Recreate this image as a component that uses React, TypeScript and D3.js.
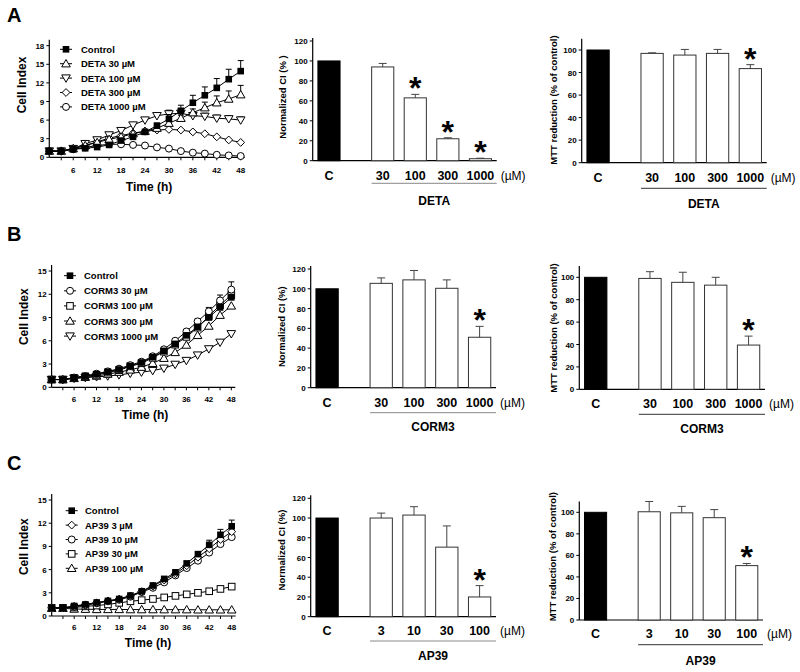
import React from "react";
import * as d3 from "d3";

// ---------- DATA ----------
const TIME = [0, 3, 6, 9, 12, 15, 18, 21, 24, 27, 30, 33, 36, 39, 42, 45, 48];
const TIME_TICK_LABELS = [6, 12, 18, 24, 30, 36, 42, 48];

// Panel A – DETA
const A_NAMES = ["Control", "DETA 30 µM", "DETA 100 µM", "DETA 300 µM", "DETA 1000 µM"];
const A_CONTROL = [1.0, 1.0, 1.3, 1.45, 1.65, 2.0, 2.7, 3.3, 4.1, 5.1, 6.2, 7.5, 8.8, 10.0, 11.2, 12.6, 13.9];
const A_CONTROL_ERR = [0, 0, 0, 0, 0, 0.1, 0.1, 0.2, 0.2, 0.4, 0.7, 0.9, 1.2, 1.35, 1.5, 1.6, 1.7];
const A_DETA30 = [1.0, 1.0, 1.4, 1.9, 2.4, 2.9, 3.3, 3.8, 4.2, 4.7, 5.5, 6.3, 7.2, 8.0, 8.8, 9.4, 10.1];
const A_DETA30_ERR = [0, 0, 0, 0, 0, 0, 0, 0, 0, 0.3, 0.4, 0.5, 0.6, 0.9, 1.1, 1.3, 1.5];
const A_DETA100 = [1.0, 1.0, 1.4, 2.2, 2.8, 3.6, 4.3, 5.2, 6.0, 6.7, 7.0, 7.1, 6.7, 6.6, 6.3, 6.2, 6.0];
const A_DETA100_ERR = [0, 0, 0, 0, 0, 0, 0, 0, 0.3, 0.4, 0.6, 0.5, 0.5, 0.5, 0.5, 0.5, 0.5];
const A_DETA300 = [1.0, 1.0, 1.4, 1.9, 2.5, 3.1, 3.5, 3.9, 4.2, 4.4, 4.5, 4.4, 4.1, 3.8, 3.3, 2.8, 2.4];
const A_DETA1000 = [1.0, 1.0, 1.3, 1.6, 1.9, 2.1, 2.1, 2.0, 1.9, 1.6, 1.4, 1.0, 0.75, 0.6, 0.4, 0.3, 0.2];
const A_ZERO = TIME.map(() => 0);

// Panel B – CORM3
const B_NAMES = ["Control", "CORM3 30 µM", "CORM3 100 µM", "CORM3 300 µM", "CORM3 1000 µM"];
const B_CONTROL = [1.0, 1.0, 1.25, 1.45, 1.7, 2.0, 2.3, 2.75, 3.2, 3.9, 4.7, 5.6, 6.7, 7.8, 9.0, 10.3, 11.6];
const B_CONTROL_ERR = [0, 0, 0, 0, 0, 0, 0, 0, 0, 0.1, 0.1, 0.2, 0.2, 0.3, 0.3, 0.4, 0.4];
const B_CORM30 = [1.0, 1.0, 1.25, 1.45, 1.75, 2.05, 2.4, 2.85, 3.3, 4.0, 4.9, 6.0, 7.2, 8.5, 9.8, 11.2, 12.6];
const B_CORM30_ERR = [0, 0, 0, 0, 0, 0, 0, 0, 0, 0.1, 0.1, 0.2, 0.2, 0.3, 0.5, 0.7, 1.0];
const B_CORM100 = [1.0, 1.0, 1.2, 1.4, 1.6, 1.9, 2.2, 2.7, 3.1, 3.8, 4.6, 5.5, 6.5, 7.7, 9.2, 10.6, 11.9];
const B_CORM300 = [1.0, 1.0, 1.15, 1.3, 1.45, 1.7, 1.95, 2.25, 2.6, 3.1, 3.75, 4.5, 5.45, 6.7, 7.9, 9.3, 10.5];
const B_CORM1000 = [1.0, 1.0, 1.15, 1.25, 1.35, 1.45, 1.6, 1.8, 1.95, 2.15, 2.45, 2.95, 3.45, 4.15, 4.95, 5.8, 6.9];
const B_ZERO = TIME.map(() => 0);

// Panel C – AP39
const C_NAMES = ["Control", "AP39 3 µM", "AP39 10 µM", "AP39 30 µM", "AP39 100 µM"];
const C_CONTROL = [1.05, 1.05, 1.3, 1.5, 1.75, 1.95, 2.2, 2.65, 3.2, 3.95, 4.8, 5.65, 6.8, 8.0, 9.2, 10.5, 11.6];
const C_CONTROL_ERR = [0, 0, 0, 0, 0, 0, 0, 0, 0, 0.1, 0.1, 0.15, 0.2, 0.3, 0.6, 0.7, 0.8];
const C_AP3 = [1.05, 1.05, 1.25, 1.45, 1.7, 1.95, 2.2, 2.6, 3.15, 3.85, 4.65, 5.45, 6.5, 7.6, 8.7, 9.9, 10.9];
const C_AP10 = [1.05, 1.05, 1.2, 1.4, 1.65, 1.9, 2.1, 2.5, 3.1, 3.65, 4.35, 5.25, 6.2, 7.15, 8.2, 9.3, 10.2];
const C_AP30 = [1.05, 1.05, 1.1, 1.25, 1.35, 1.5, 1.7, 1.9, 2.05, 2.2, 2.4, 2.6, 2.8, 3.0, 3.2, 3.5, 3.8];
const C_AP100 = [1.0, 1.0, 0.9, 0.88, 0.85, 0.85, 0.85, 0.83, 0.83, 0.83, 0.82, 0.82, 0.82, 0.8, 0.8, 0.8, 0.8];
const C_ZERO = TIME.map(() => 0);

// Bar charts
const DETA_CATS = ["C", "30", "100", "300", "1000"];
const CORM_CATS = ["C", "30", "100", "300", "1000"];
const AP39_CATS = ["C", "3", "10", "30", "100"];

const A_NCI = [100, 94, 63, 22, 2];
const A_NCI_ERR = [0, 3.5, 3.5, 1, 0.5];
const A_NCI_SIG = [false, false, true, true, true];
const A_MTT = [100, 97, 95.5, 97, 83.5];
const A_MTT_ERR = [0, 0.5, 5, 3.5, 3.5];
const A_MTT_SIG = [false, false, false, false, true];

const B_NCI = [100, 105.5, 109, 100.5, 51];
const B_NCI_ERR = [0, 5.5, 9.5, 8.5, 11];
const B_NCI_SIG = [false, false, false, false, true];
const B_MTT = [100, 99, 95.5, 93, 39.5];
const B_MTT_ERR = [0, 6, 9, 7, 8];
const B_MTT_SIG = [false, false, false, false, true];

const C_NCI = [100, 100, 103, 70.5, 20];
const C_NCI_ERR = [0, 5, 8.5, 21.5, 11.5];
const C_NCI_SIG = [false, false, false, false, true];
const C_MTT = [100, 100.5, 99.5, 95, 50.5];
const C_MTT_ERR = [0, 9.5, 6, 7.5, 2];
const C_MTT_SIG = [false, false, false, false, true];

const NCI_TICKS = [0, 20, 40, 60, 80, 100, 120];
const MTT_TICKS = [0, 20, 40, 60, 80, 100];

// ---------- STYLE ----------
const FONT = "'Liberation Sans', Arial, Helvetica, sans-serif";

type MarkerType = "filledSquare" | "square" | "circle" | "triUp" | "triDown" | "diamond";

function Marker({ type, x, y }: { type: MarkerType; x: number; y: number }) {
  const s = 3.3;
  switch (type) {
    case "filledSquare":
      return <rect x={x - s} y={y - s} width={2 * s} height={2 * s} fill="#000" />;
    case "square":
      return <rect x={x - s} y={y - s} width={2 * s} height={2 * s} fill="#fff" stroke="#000" strokeWidth={1} />;
    case "circle":
      return <circle cx={x} cy={y} r={3.5} fill="#fff" stroke="#000" strokeWidth={1} />;
    case "triUp":
      return <path d={`M${x},${y - 4.2}L${x + 4.3},${y + 3.2}L${x - 4.3},${y + 3.2}Z`} fill="#fff" stroke="#000" strokeWidth={1} />;
    case "triDown":
      return <path d={`M${x},${y + 4.2}L${x + 4.3},${y - 3.2}L${x - 4.3},${y - 3.2}Z`} fill="#fff" stroke="#000" strokeWidth={1} />;
    case "diamond":
      return <path d={`M${x},${y - 3.9}L${x + 3.9},${y}L${x},${y + 3.9}L${x - 3.9},${y}Z`} fill="#fff" stroke="#000" strokeWidth={1} />;
  }
  return null;
}

interface LineLayout {
  x0: number; x48: number; y0: number; yTopPx: number; yMax: number;
  letter: string; letterY: number;
  ylabX: number; ylabY: number; timeX: number; timeY: number; tickY: number;
  legMarkX: number; legTextX: number; legY0: number; legDy: number;
}

function LineChart({ L, names, series, errs, markers }: {
  L: LineLayout; names: string[]; series: number[][]; errs: number[][]; markers: MarkerType[];
}) {
  const x = d3.scaleLinear().domain([0, 48]).range([L.x0, L.x48]);
  const y = d3.scaleLinear().domain([0, L.yMax]).range([L.y0, L.yTopPx]);
  const line = d3.line<number>().x((_, i) => x(TIME[i])).y((d) => y(d));
  const yTicks = d3.range(0, L.yMax + 0.01, 3);
  const order = series.map((_, i) => i).reverse();
  return (
    <g fontFamily={FONT}>
      <text x={7} y={L.letterY} fontSize={20} fontWeight="bold">{L.letter}</text>
      {/* axes */}
      <line x1={x(0)} x2={x(0)} y1={y(0)} y2={y(L.yMax) - 6} stroke="#000" strokeWidth={1.2} />
      <line x1={x(0)} x2={x(48) + 4} y1={y(0)} y2={y(0)} stroke="#000" strokeWidth={1.2} />
      {yTicks.map((t) => (
        <g key={"yt" + t}>
          <line x1={x(0) - 3} x2={x(0)} y1={y(t)} y2={y(t)} stroke="#000" strokeWidth={1} />
          <text x={x(0) - 5} y={y(t) + 3} fontSize={8} fontWeight="bold" textAnchor="end">{t}</text>
        </g>
      ))}
      {TIME.slice(1).map((t) => (
        <line key={"xt" + t} x1={x(t)} x2={x(t)} y1={y(0)} y2={y(0) + 3} stroke="#000" strokeWidth={1} />
      ))}
      {TIME_TICK_LABELS.map((t) => (
        <text key={"xl" + t} x={x(t)} y={L.tickY} fontSize={8} fontWeight="bold" textAnchor="middle">{t}</text>
      ))}
      <text x={L.timeX} y={L.timeY} fontSize={12} fontWeight="bold" textAnchor="middle">Time (h)</text>
      <text transform={`translate(${L.ylabX},${L.ylabY}) rotate(-90)`} fontSize={12} fontWeight="bold" textAnchor="middle" dy="0.35em">Cell Index</text>
      {/* series */}
      {order.map((si) => (
        <g key={"s" + si}>
          <path d={line(series[si]) || ""} fill="none" stroke="#000" strokeWidth={1} />
          {series[si].map((v, i) => errs[si][i] > 0 ? (
            <g key={"e" + i}>
              <line x1={x(TIME[i])} x2={x(TIME[i])} y1={y(v)} y2={y(v + errs[si][i])} stroke="#000" strokeWidth={1} />
              <line x1={x(TIME[i]) - 3} x2={x(TIME[i]) + 3} y1={y(v + errs[si][i])} y2={y(v + errs[si][i])} stroke="#000" strokeWidth={1} />
            </g>
          ) : null)}
          {series[si].map((v, i) => <Marker key={"m" + i} type={markers[si]} x={x(TIME[i])} y={y(v)} />)}
        </g>
      ))}
      {/* legend */}
      {names.map((n, i) => {
        const ly = L.legY0 + i * L.legDy;
        return (
          <g key={"lg" + i}>
            <line x1={L.legMarkX - 6} x2={L.legMarkX + 6} y1={ly} y2={ly} stroke="#000" strokeWidth={1} />
            <Marker type={markers[i]} x={L.legMarkX} y={ly} />
            <text x={L.legTextX} y={ly + 3.5} fontSize={9.5} fontWeight="bold">{n}</text>
          </g>
        );
      })}
    </g>
  );
}

interface BarLayout {
  ax0: number; ax1: number; y0: number; yRefPx: number; yRef: number; yMax: number;
  ylabX: number; ylabY: number; ylabel: string;
  catDy: number; ulDy: number; nameDy: number; group: string;
  ulColor: string;
}

function BarChart({ L, cats, values, errs, sig, ticks }: {
  L: BarLayout; cats: string[]; values: number[]; errs: number[]; sig: boolean[]; ticks: number[];
}) {
  const x = d3.scaleLinear().domain([-0.5, 5.15]).range([L.ax0, L.ax1]);
  const y = d3.scaleLinear().domain([0, L.yRef]).range([L.y0, L.yRefPx]);
  const pos = (i: number) => (i === 0 ? 0 : i + 0.65);
  const bw = 0.68;
  const barW = x(bw) - x(0);
  const ulStart = x(pos(1) - bw / 2);
  return (
    <g fontFamily={FONT}>
      <line x1={L.ax0} x2={L.ax0} y1={y(0)} y2={y(L.yMax)} stroke="#000" strokeWidth={1.2} />
      <line x1={L.ax0} x2={L.ax1} y1={y(0)} y2={y(0)} stroke="#000" strokeWidth={1.2} />
      {ticks.map((t) => (
        <g key={"t" + t}>
          <line x1={L.ax0 - 3} x2={L.ax0} y1={y(t)} y2={y(t)} stroke="#000" strokeWidth={1} />
          <text x={L.ax0 - 5} y={y(t) + 3} fontSize={8} fontWeight="bold" textAnchor="end">{t}</text>
        </g>
      ))}
      <text transform={`translate(${L.ylabX},${L.ylabY}) rotate(-90)`} fontSize={9.5} fontWeight="bold" textAnchor="middle" dy="0.35em">{L.ylabel}</text>
      {values.map((v, i) => {
        const cx = x(pos(i));
        const top = v + errs[i];
        return (
          <g key={"b" + i}>
            {errs[i] > 0 && (
              <g>
                <line x1={cx} x2={cx} y1={y(v)} y2={y(top)} stroke="#444" strokeWidth={1} />
                <line x1={cx - 4} x2={cx + 4} y1={y(top)} y2={y(top)} stroke="#444" strokeWidth={1} />
              </g>
            )}
            <rect x={cx - barW / 2} y={y(v)} width={barW} height={y(0) - y(v)}
              fill={i === 0 ? "#000" : "#fff"} stroke={i === 0 ? "#000" : "#333"} strokeWidth={1} />
            {sig[i] && (
              <text x={cx} y={y(top) - 13 + 18} fontSize={32} fontWeight="bold" textAnchor="middle">*</text>
            )}
            <text x={cx} y={y(0) + L.catDy} fontSize={12.5} fontWeight="bold" textAnchor="middle">{cats[i]}</text>
          </g>
        );
      })}
      <text x={L.ax1 + 4} y={y(0) + L.catDy} fontSize={12}>(µM)</text>
      <line x1={ulStart} x2={L.ax1} y1={y(0) + L.ulDy} y2={y(0) + L.ulDy} stroke={L.ulColor} strokeWidth={1} />
      <text x={(ulStart + L.ax1) / 2} y={y(0) + L.nameDy} fontSize={12} fontWeight="bold" textAnchor="middle">{L.group}</text>
    </g>
  );
}

// ---------- LAYOUT ----------
const LA: LineLayout = { x0: 49.3, x48: 240.7, y0: 157.3, yTopPx: 45.7, yMax: 18, letter: "A", letterY: 21.7,
  ylabX: 22, ylabY: 85, timeX: 149, timeY: 191, tickY: 173, legMarkX: 66, legTextX: 81, legY0: 49.3, legDy: 14.4 };
const LB: LineLayout = { x0: 51.6, x48: 231.3, y0: 387.3, yTopPx: 271, yMax: 15, letter: "B", letterY: 240.7,
  ylabX: 24, ylabY: 316.7, timeX: 145, timeY: 419, tickY: 401.5, legMarkX: 70, legTextX: 84, legY0: 275.7, legDy: 15.1 };
const LC: LineLayout = { x0: 51.7, x48: 231.7, y0: 616, yTopPx: 500, yMax: 15, letter: "C", letterY: 469.5,
  ylabX: 24, ylabY: 546.7, timeX: 148, timeY: 647, tickY: 630, legMarkX: 71.7, legTextX: 85, legY0: 510.7, legDy: 14.4 };

const BA1: BarLayout = { ax0: 312.7, ax1: 496.7, y0: 160.7, yRefPx: 41, yRef: 120, yMax: 123, ylabX: 283, ylabY: 97,
  ylabel: "Normalized CI (% )", catDy: 19, ulDy: 22.6, nameDy: 44.3, group: "DETA", ulColor: "#888" };
const BA2: BarLayout = { ax0: 581.7, ax1: 766.7, y0: 162.7, yRefPx: 50, yRef: 100, yMax: 110, ylabX: 554, ylabY: 100,
  ylabel: "MTT reduction (% of control)", catDy: 19, ulDy: 25.6, nameDy: 45.6, group: "DETA", ulColor: "#333" };
const BB1: BarLayout = { ax0: 310.7, ax1: 496, y0: 387.7, yRefPx: 269, yRef: 120, yMax: 123, ylabX: 281.7, ylabY: 326.7,
  ylabel: "Normalized CI (%)", catDy: 19, ulDy: 25, nameDy: 43, group: "CORM3", ulColor: "#888" };
const BB2: BarLayout = { ax0: 579.3, ax1: 765, y0: 389.3, yRefPx: 277.3, yRef: 100, yMax: 110, ylabX: 553.3, ylabY: 328,
  ylabel: "MTT reduction (% of control)", catDy: 19, ulDy: 25, nameDy: 44, group: "CORM3", ulColor: "#333" };
const BC1: BarLayout = { ax0: 310.7, ax1: 496, y0: 616.7, yRefPx: 498.3, yRef: 120, yMax: 123, ylabX: 281.7, ylabY: 550,
  ylabel: "Normalized CI (%)", catDy: 18.3, ulDy: 24.3, nameDy: 43.3, group: "AP39", ulColor: "#888" };
const BC2: BarLayout = { ax0: 579.3, ax1: 763, y0: 620, yRefPx: 512.3, yRef: 100, yMax: 110, ylabX: 552.3, ylabY: 556.7,
  ylabel: "MTT reduction (% of control)", catDy: 18.3, ulDy: 24.7, nameDy: 45, group: "AP39", ulColor: "#333" };

export default function App() {
  return (
    <svg width={800} height={672} style={{ position: "absolute", left: 0, top: 0, background: "#fff" }}>
      <rect x={0} y={0} width={800} height={672} fill="#fff" />
      <LineChart L={LA} names={A_NAMES}
        series={[A_CONTROL, A_DETA30, A_DETA100, A_DETA300, A_DETA1000]}
        errs={[A_CONTROL_ERR, A_DETA30_ERR, A_DETA100_ERR, A_ZERO, A_ZERO]}
        markers={["filledSquare", "triUp", "triDown", "diamond", "circle"]} />
      <LineChart L={LB} names={B_NAMES}
        series={[B_CONTROL, B_CORM30, B_CORM100, B_CORM300, B_CORM1000]}
        errs={[B_CONTROL_ERR, B_CORM30_ERR, B_ZERO, B_ZERO, B_ZERO]}
        markers={["filledSquare", "circle", "square", "triUp", "triDown"]} />
      <LineChart L={LC} names={C_NAMES}
        series={[C_CONTROL, C_AP3, C_AP10, C_AP30, C_AP100]}
        errs={[C_CONTROL_ERR, C_ZERO, C_ZERO, C_ZERO, C_ZERO]}
        markers={["filledSquare", "diamond", "circle", "square", "triUp"]} />
      <BarChart L={BA1} cats={DETA_CATS} values={A_NCI} errs={A_NCI_ERR} sig={A_NCI_SIG} ticks={NCI_TICKS} />
      <BarChart L={BA2} cats={DETA_CATS} values={A_MTT} errs={A_MTT_ERR} sig={A_MTT_SIG} ticks={MTT_TICKS} />
      <BarChart L={BB1} cats={CORM_CATS} values={B_NCI} errs={B_NCI_ERR} sig={B_NCI_SIG} ticks={NCI_TICKS} />
      <BarChart L={BB2} cats={CORM_CATS} values={B_MTT} errs={B_MTT_ERR} sig={B_MTT_SIG} ticks={MTT_TICKS} />
      <BarChart L={BC1} cats={AP39_CATS} values={C_NCI} errs={C_NCI_ERR} sig={C_NCI_SIG} ticks={NCI_TICKS} />
      <BarChart L={BC2} cats={AP39_CATS} values={C_MTT} errs={C_MTT_ERR} sig={C_MTT_SIG} ticks={MTT_TICKS} />
    </svg>
  );
}
